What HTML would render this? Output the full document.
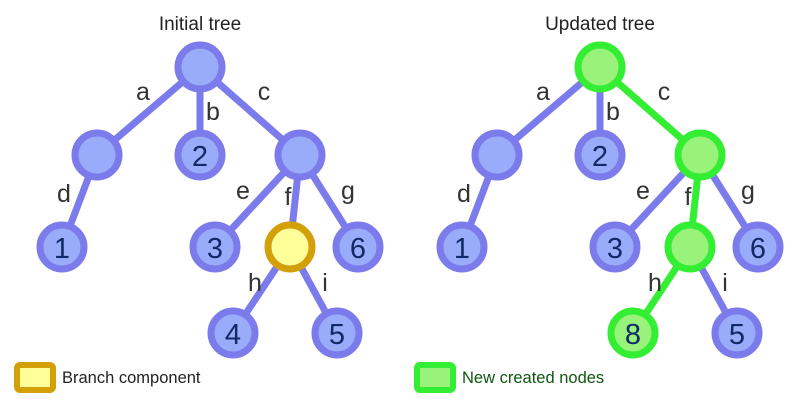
<!DOCTYPE html>
<html><head><style>body{margin:0;background:#fff}svg{display:block}</style></head><body>
<svg width="800" height="400" xmlns="http://www.w3.org/2000/svg" font-family="Liberation Sans, DejaVu Sans, sans-serif">
<!-- LEFT -->
<g stroke-width="7" stroke="#7b7bec">
<line x1="200" y1="67" x2="97" y2="155"/><line x1="200" y1="67" x2="200" y2="155"/><line x1="200" y1="67" x2="300" y2="155"/>
<line x1="97" y1="155" x2="62" y2="247"/><line x1="300" y1="155" x2="215" y2="247"/><line x1="300" y1="155" x2="290" y2="247"/><line x1="300" y1="155" x2="358" y2="247"/>
<line x1="290" y1="247" x2="233" y2="333"/><line x1="290" y1="247" x2="337" y2="333"/>
</g>
<g stroke-width="7" stroke="#7b7bec" fill="#99acfa">
<circle cx="200" cy="67" r="22"/><circle cx="97" cy="155" r="22"/><circle cx="200" cy="155" r="22"/><circle cx="300" cy="155" r="22"/>
<circle cx="62" cy="247" r="22"/><circle cx="215" cy="247" r="22"/><circle cx="358" cy="247" r="22"/>
<circle cx="233" cy="333" r="22"/><circle cx="337" cy="333" r="22"/>
</g>
<circle cx="290" cy="247" r="22" stroke="#d4a00a" stroke-width="7" fill="#ffff99"/>
<!-- RIGHT -->
<g stroke-width="7" stroke="#7b7bec">
<line x1="600" y1="67" x2="497" y2="155"/><line x1="600" y1="67" x2="600" y2="155"/>
<line x1="497" y1="155" x2="462" y2="247"/><line x1="700" y1="155" x2="615" y2="247"/><line x1="700" y1="155" x2="758" y2="247"/>
<line x1="690" y1="247" x2="737" y2="333"/>
</g>
<g stroke-width="7" stroke="#33ee33">
<line x1="600" y1="67" x2="700" y2="155"/><line x1="700" y1="155" x2="690" y2="247"/><line x1="690" y1="247" x2="633" y2="333"/>
</g>
<g stroke-width="7" stroke="#7b7bec" fill="#99acfa">
<circle cx="497" cy="155" r="22"/><circle cx="600" cy="155" r="22"/>
<circle cx="462" cy="247" r="22"/><circle cx="615" cy="247" r="22"/><circle cx="758" cy="247" r="22"/>
<circle cx="737" cy="333" r="22"/>
</g>
<g stroke-width="7" stroke="#33ee33" fill="#99f27a">
<circle cx="600" cy="67" r="22"/><circle cx="700" cy="155" r="22"/><circle cx="690" cy="247" r="22"/><circle cx="633" cy="333" r="22"/>
</g>
<!-- text -->
<g font-size="19" fill="#222" text-anchor="middle">
<text x="200" y="30">Initial tree</text><text x="600" y="30">Updated tree</text>
</g>
<g font-size="25" fill="#333" text-anchor="middle">
<text x="143" y="100">a</text><text x="213" y="120">b</text><text x="264" y="100">c</text>
<text x="64" y="202">d</text><text x="243" y="199">e</text><text x="288" y="205">f</text><text x="348" y="199">g</text>
<text x="255" y="291">h</text><text x="325" y="291">i</text>
<text x="543" y="100">a</text><text x="613" y="120">b</text><text x="664" y="100">c</text>
<text x="464" y="202">d</text><text x="643" y="199">e</text><text x="688" y="205">f</text><text x="748" y="199">g</text>
<text x="655" y="291">h</text><text x="725" y="291">i</text>
</g>
<g font-size="29" fill="#0f2a66" text-anchor="middle">
<text x="62" y="258">1</text><text x="200" y="166">2</text><text x="215" y="258">3</text><text x="358" y="258">6</text>
<text x="233" y="344">4</text><text x="337" y="344">5</text>
<text x="462" y="258">1</text><text x="600" y="166">2</text><text x="615" y="258">3</text><text x="758" y="258">6</text>
<text x="633" y="344">8</text><text x="737" y="344">5</text>
</g>
<rect x="17" y="365" width="36" height="25" rx="3" fill="#ffff99" stroke="#d4a00a" stroke-width="6"/>
<text x="62" y="383" font-size="16.5" fill="#222">Branch component</text>
<rect x="417" y="365" width="36" height="25" rx="3" fill="#99f27a" stroke="#33ee33" stroke-width="6"/>
<text x="462" y="383" font-size="16.5" fill="#115511">New created nodes</text>
</svg>
</body></html>
